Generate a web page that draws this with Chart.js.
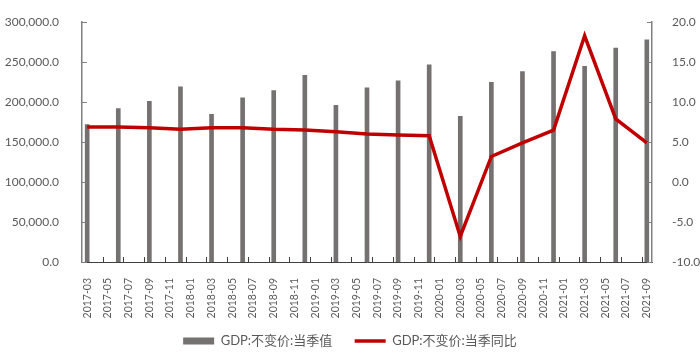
<!DOCTYPE html>
<html>
<head>
<meta charset="utf-8">
<script src="https://cdn.jsdelivr.net/npm/chart.js@4/dist/chart.umd.min.js"></script>
<style>
  html, body { margin: 0; padding: 0; background: #fff; }
  #wrap { width: 700px; height: 364px; }
</style>
</head>
<body>
<div id="wrap"><canvas id="gdpChart"></canvas></div>
<script>
// quarterly data
const quarters = ['2017-03','2017-06','2017-09','2017-12','2018-03','2018-06','2018-09','2018-12',
  '2019-03','2019-06','2019-09','2019-12','2020-03','2020-06','2020-09','2020-12',
  '2021-03','2021-06','2021-09'];
const gdpValue = [172000, 192000, 201000, 219000, 184600, 205400, 214300, 233400,
  196000, 217900, 226800, 246800, 182200, 224900, 238300, 263400,
  244800, 267600, 278000];
const gdpYoY = [6.9, 6.9, 6.8, 6.6, 6.8, 6.8, 6.6, 6.5, 6.3, 6.0, 5.9, 5.8,
  -6.8, 3.2, 4.9, 6.5, 18.3, 7.9, 4.9];
const leftTicks = [0, 50000, 100000, 150000, 200000, 250000, 300000];
const rightTicks = [-10, -5, 0, 5, 10, 15, 20];

// monthly axis 2017-03 .. 2021-09
var months = [];
for (let y = 2017, m = 3; y < 2021 || (y === 2021 && m <= 9); ) {
    months.push(y + '-' + String(m).padStart(2, '0'));
    m++;
    if (m > 12) { m = 1; y++; }
}
var barData = months.map(function(mo){
    const i = quarters.indexOf(mo);
    return i >= 0 ? gdpValue[i] : null;
});
var lineData = months.map(function(mo){
    const i = quarters.indexOf(mo);
    return i >= 0 ? gdpYoY[i] : null;
});

Chart.defaults.font.family = 'Lato, "Noto Sans CJK SC", sans-serif';
Chart.defaults.color = '#595959';

// excel-style ticks pointing into the plot
const innerTicks = {
    id: 'innerTicks',
    afterDraw(chart) {
        const ctx = chart.ctx, a = chart.chartArea;
        const sx = chart.scales.x, yl = chart.scales.y, yr = chart.scales.y1;
        ctx.save();
        ctx.lineWidth = 1;
        ctx.strokeStyle = '#404040';
        ctx.beginPath();
        for (let i = 2; i < months.length; i += 2) {
            const px = Math.round(sx.getPixelForValue(i - 0.5)) + 0.5;
            ctx.moveTo(px, a.bottom);
            ctx.lineTo(px, a.bottom - 5);
        }
        ctx.stroke();
        ctx.strokeStyle = '#808080';
        ctx.beginPath();
        leftTicks.forEach(function(v){
            const py = Math.round(yl.getPixelForValue(v)) + 0.5;
            ctx.moveTo(a.left, py);
            ctx.lineTo(a.left + 5, py);
        });
        rightTicks.forEach(function(v){
            const py = Math.round(yr.getPixelForValue(v)) + 0.5;
            ctx.moveTo(a.right, py);
            ctx.lineTo(a.right - 5, py);
        });
        ctx.stroke();
        ctx.restore();
    }
};

const ctx = document.getElementById('gdpChart');
new Chart(ctx, {
    type: 'bar',
    data: {
        labels: months,
        datasets: [{
            type: 'bar',
            label: 'GDP:不变价:当季值',
            data: barData,
            backgroundColor: '#767171',
            borderWidth: 0,
            barThickness: 4,
            pointStyle: 'rect',
            yAxisID: 'y',
            order: 1
        }, {
            type: 'line',
            label: 'GDP:不变价:当季同比',
            data: lineData,
            borderColor: '#C00000',
            backgroundColor: '#C00000',
            borderWidth: 3.5,
            pointRadius: 0,
            spanGaps: true,
            tension: 0,
            pointStyle: 'line',
            yAxisID: 'y1',
            order: 0
        }]
    },
    options: {
        responsive: true,
        maintainAspectRatio: false,
        animation: false,
        layout: { padding: { top: 16, left: 0, right: 0, bottom: 6.5 } },
        plugins: {
            tooltip: { enabled: false },
            legend: {
                position: 'bottom',
                labels: {
                    usePointStyle: true,
                    pointStyleWidth: 31,
                    boxHeight: 7,
                    padding: 6,
                    color: '#595959',
                    font: { size: 13 },
                    sort: function(a, b){ return a.datasetIndex - b.datasetIndex; },
                    generateLabels: function(chart){
                        const items = Chart.defaults.plugins.legend.labels.generateLabels(chart);
                        items.forEach(function(it){
                            if (it.datasetIndex === 0) it.text += '\u3000 ';  // wider gap between the two entries
                        });
                        return items;
                    }
                }
            }
        },
        scales: {
            x: {
                offset: true,
                grid: { display: false },
                border: { display: true, color: '#404040', width: 1 },
                ticks: {
                    autoSkip: false,
                    minRotation: 90,
                    maxRotation: 90,
                    padding: 8,
                    font: { size: 10.5 },
                    color: '#595959',
                    callback: function(v, i){ return i % 2 === 0 ? months[i] : ''; }
                },
                afterFit: function(s){ s.height = 66.5; }
            },
            y: {
                position: 'left',
                min: 0,
                max: 300000,
                grid: { display: false },
                border: { display: true, color: '#808080', width: 1.5 },
                afterBuildTicks: function(s){ s.ticks = leftTicks.map(function(v){ return { value: v }; }); },
                ticks: {
                    padding: 15,
                    font: { size: 12 },
                    color: '#595959',
                    callback: function(v){
                        return v.toLocaleString('en-US', { minimumFractionDigits: 1, maximumFractionDigits: 1 });
                    }
                },
                afterFit: function(s){ s.width = 82; }
            },
            y1: {
                position: 'right',
                min: -10,
                max: 20,
                grid: { display: false },
                border: { display: true, color: '#808080', width: 1.5 },
                afterBuildTicks: function(s){ s.ticks = rightTicks.map(function(v){ return { value: v }; }); },
                ticks: {
                    padding: 12,
                    font: { size: 12 },
                    color: '#595959',
                    callback: function(v){ return v.toFixed(1); }
                },
                afterFit: function(s){ s.width = 48; }
            }
        }
    },
    plugins: [innerTicks]
});
</script>
</body>
</html>
